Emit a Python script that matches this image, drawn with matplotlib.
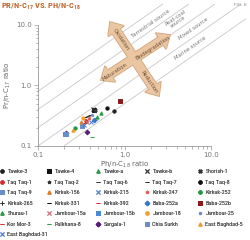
import numpy as np
import matplotlib
matplotlib.use('Agg')
import matplotlib.pyplot as plt
from matplotlib import font_manager
from matplotlib.transforms import Affine2D
from matplotlib.patches import Polygon
from matplotlib.ticker import FuncFormatter, NullFormatter

plt.rcParams['mathtext.default'] = 'regular'

# use a narrow face if one is installed
installed = {f.name for f in font_manager.fontManager.ttflist}
narrow = None
for cand in ['Liberation Sans Narrow', 'Roboto Condensed', 'Open Sans Condensed',
             'DejaVu Sans Condensed', 'Noto Sans Condensed']:
    if cand in installed:
        narrow = cand
        break

# ---- data ---------------------------------------------------------------
names = ['Tawke-3', 'Tawke-4', 'Tawke-a', 'Tawke-b', 'Shorish-1',
         'Taq Taq-1', 'Taq Taq-2', 'Taq Taq-6', 'Taq Taq-7', 'Taq Taq-8',
         'Taq Taq-9', 'Kirkuk-156', 'Kirkuk-215', 'Kirkuk-247', 'Kirkuk-252',
         'Kirkuk-265', 'Kirkuk-331', 'Kirkuk-392', 'Baba-252a', 'Baba-252b',
         'Shurau-1', 'Jambour-15a', 'Jambour-15b', 'Jambour-18', 'Jambour-25',
         'Kor Mor-3', 'Pulkhana-8', 'Sargala-1', 'Chia Surkh', 'East Baghdad-5',
         'East Baghdad-31']

# Ph/n-C18 (x) and Pr/n-C17 (y) for each well
ph_c18 = [[0.75], [0.44], [0.53], [0.43], [0.45],
          [0.36], [0.46], [0.40], [0.38], [0.63],
          [0.32], [0.31], [0.41], [0.385], [0.27],
          [0.45], [0.35], [0.34], [0.44], [0.88],
          [0.48], [0.37], [0.206], [0.33], [0.42],
          [0.35], [0.42], [0.21, 0.368], [0.213], [0.257],
          [0.34]]
pr_c17 = [[0.38], [0.40], [0.35], [0.41], [0.40],
          [0.26], [0.375], [0.33], [0.31], [0.43],
          [0.21], [0.245], [0.25], [0.29], [0.195],
          [0.27], [0.30], [0.28], [0.27], [0.56],
          [0.30], [0.25], [0.157], [0.29], [0.32],
          [0.24], [0.14], [0.165, 0.172], [0.16], [0.18],
          [0.22]]

markers = ['o', 's', '^', 'x', 'X',
           'o', '*', '_', '_', 'o',
           's', '^', 'x', '*', 'o',
           '+', '_', '_', 'D', 's',
           '^', 'x', 's', 'o', '.',
           '_', '_', 'D', 's', '^',
           'x']
colors = ['#222222', '#111111', '#2e9a47', '#333333', '#333333',
          '#d62a2a', '#333333', '#333333', '#333333', '#111111',
          '#6a8fc8', '#e07b2a', '#4a7fd0', '#e06060', '#1e9a3e',
          '#333333', '#111111', '#e03030', '#3a78d0', '#8b1a1a',
          '#2e9a47', '#d07080', '#4a8ad8', '#f0a030', '#6a8fd0',
          '#e03030', '#2ea050', '#5a1a7a', '#6a8fc8', '#f09a30',
          '#4a7fd0']

# Pr/Ph ratio lines (y = k * x)
ratio_lines = [8, 4, 2, 1, 0.5]

# ---- figure -------------------------------------------------------------
fig = plt.figure(figsize=(2.5, 2.4), dpi=100)
pix = Affine2D().scale(1 / 100, -1 / 100).translate(0, 2.4) + fig.dpi_scale_trans

ax = fig.add_axes([0.152, 0.392, 0.692, 0.504])
ax.set_xscale('log')
ax.set_yscale('log')
ax.set_xlim(0.1, 10)
ax.set_ylim(0.1, 10)

for k in ratio_lines:
    xs = np.array([max(0.1, 0.1 / k), min(25, 22 / k)])
    ax.plot(xs, k * xs, color='#c8c8c8', lw=0.6, clip_on=False, zorder=1)

handles = []
for i in range(len(names)):
    ms = 2.4 if markers[i] not in ('_', '.') else 3.3
    h, = ax.plot(ph_c18[i], pr_c17[i], ls='none', marker=markers[i],
                 color=colors[i], ms=ms, mew=0.7, label=names[i], zorder=5,
                 clip_on=False)
    handles.append(h)

for s in ['top', 'right']:
    ax.spines[s].set_visible(False)
for s in ['left', 'bottom']:
    ax.spines[s].set_color('#999999')
    ax.spines[s].set_linewidth(0.6)
fmt = FuncFormatter(lambda v, p: '%.1f' % v)
ax.xaxis.set_major_formatter(fmt)
ax.yaxis.set_major_formatter(fmt)
ax.xaxis.set_minor_formatter(NullFormatter())
ax.yaxis.set_minor_formatter(NullFormatter())
ax.tick_params(which='both', colors='#999999', labelcolor='#777777',
               labelsize=5, width=0.5, pad=1.5)
ax.tick_params(which='major', length=3)
ax.tick_params(which='minor', length=1.8)
ax.set_xlabel('Ph/n-C$_{18}$ ratio', fontsize=5, color='#666666', labelpad=1)
ax.set_ylabel('Pr/n-C$_{17}$ ratio', fontsize=5, color='#666666', labelpad=2)

# ---- cross arrows ---------------------------------------------------------
def double_arrow(p1, p2, w=9, hw=19, hl=11):
    p1 = np.array(p1, float)
    p2 = np.array(p2, float)
    u = (p2 - p1) / np.hypot(*(p2 - p1))
    n = np.array([-u[1], u[0]])
    pts = [p1, p1 + hl * u + hw / 2 * n, p1 + hl * u + w / 2 * n,
           p2 - hl * u + w / 2 * n, p2 - hl * u + hw / 2 * n, p2,
           p2 - hl * u - hw / 2 * n, p2 - hl * u - w / 2 * n,
           p1 + hl * u - w / 2 * n, p1 + hl * u - hw / 2 * n]
    return pts

arrows = [((110, 22), (159, 96)), ((101, 80), (170, 35))]
for lw, ec, z in [(1.2, '#d2a47a', 6), (0, 'none', 7)]:
    for a, b in arrows:
        fig.patches.append(Polygon(double_arrow(a, b), closed=True,
                                   facecolor='#ebc6a2', edgecolor=ec, lw=lw,
                                   transform=pix, zorder=z))

arrow_text = [('Oxidation', 121, 40, -56), ('Reduction', 149, 82, -56),
              ('Maturation', 115, 72, 33), ('Biodegradation', 153, 48, 33)]
for t, x, y, r in arrow_text:
    fig.text(x, y, t, transform=pix, rotation=r, fontsize=3.8,
             color='#6b4a2e', ha='center', va='center', zorder=8,
             rotation_mode='anchor')

source_text = [('Terrestrial source', 151, 24), ('Peat-coal\nsource', 177, 20),
               ('Mixed source', 193, 29), ('Marine source', 190, 48)]
for t, x, y in source_text:
    fig.text(x, y, t, transform=pix, rotation=35, fontsize=3.8,
             color='#777777', ha='center', va='center', zorder=8,
             rotation_mode='anchor', linespacing=0.9)

# ---- titles -------------------------------------------------------------
if narrow:
    fig.text(1, 7, 'PR/N-C$_{17}$ VS. PH/N-C$_{18}$', transform=pix,
             fontsize=6.0, fontweight='bold', color='#c0652b',
             family=narrow, va='center', ha='left')
else:
    fig.text(1, 7, 'PR/N-C$_{17}$ VS. PH/N-C$_{18}$', transform=pix,
             fontsize=5.0, fontweight='bold', color='#c0652b',
             va='center', ha='left')
fig.text(247, 5, 'FIG. 6', transform=pix, fontsize=3.2, color='#888888',
         va='center', ha='right')

# ---- legend: five columns, filled row by row -----------------------------
leg_prop = {'family': narrow, 'size': 4.4} if narrow else {'size': 3.9}
col_x = [0, 47, 96, 145, 198]
for j in range(5):
    idx = list(range(j, len(names), 5))
    leg = fig.legend([handles[i] for i in idx], [names[i] for i in idx],
                     loc='upper left', bbox_to_anchor=(col_x[j] / 250, 1 - 169 / 240),
                     prop=leg_prop, frameon=False, handlelength=0.8,
                     handletextpad=0.4, labelspacing=0.86,
                     borderpad=0, borderaxespad=0)
    for t in leg.get_texts():
        t.set_color('#555555')
    fig.add_artist(leg)

fig.savefig('out.png', dpi=100)
